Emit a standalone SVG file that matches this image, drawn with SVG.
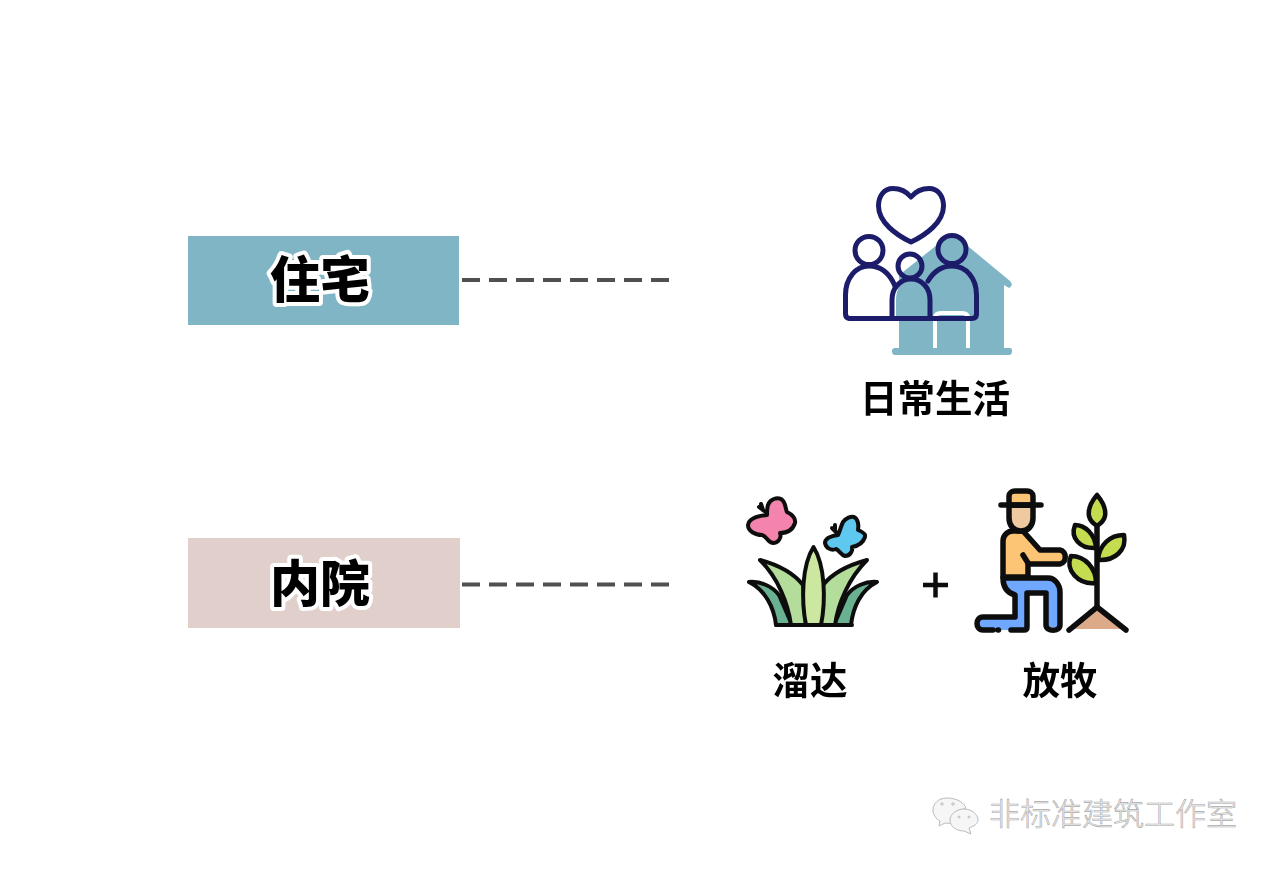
<svg xmlns="http://www.w3.org/2000/svg" width="1280" height="870" viewBox="0 0 1280 870">
<defs>
<style>
text{font-family:"Noto Sans CJK SC","Liberation Sans",sans-serif;text-anchor:middle}
.box{font-size:50px;font-weight:900;fill:#000;stroke:#fff;stroke-width:8px;stroke-linejoin:round;paint-order:stroke}
.cap{font-size:37.5px;font-weight:700;fill:#000}
.dash{stroke:#505050;stroke-width:4;stroke-dasharray:18 9;fill:none}
.navy{fill:none;stroke:#1b1f6b;stroke-width:5;stroke-linejoin:round;stroke-linecap:round}
.k{stroke:#111;stroke-width:4;stroke-linejoin:round;stroke-linecap:round}
.kn{fill:none;stroke:#111;stroke-width:4;stroke-linejoin:round;stroke-linecap:round}
.f{stroke:#0c0c0c;stroke-width:5.500;stroke-linejoin:round;stroke-linecap:round}
.fn{fill:none;stroke:#0c0c0c;stroke-width:5.500;stroke-linejoin:round;stroke-linecap:round}
.leaf{fill:#c4dc50;stroke:#0c0c0c;stroke-width:4.500;stroke-linejoin:round}
.t{fill:#7fb5c4}
.wm{font-size:31px;font-weight:300;fill:#f1f1f1;stroke:#aaa;stroke-width:.6px}
</style>
<filter id="soft" x="-5%" y="-5%" width="110%" height="110%"><feGaussianBlur stdDeviation=".4"/></filter>
</defs>
<rect width="1280" height="870" fill="#fff"/>
<g id="connectors">
<path class="dash" d="M462 280H670"/>
<path class="dash" d="M462 584.500H670"/>
</g>
<g id="node-zhuzhai">
<rect x="188" y="236" width="271" height="89" fill="#7fb5c4"/>
<text class="box" x="320" y="298">住宅</text>
</g>
<g id="node-neiyuan">
<rect x="188" y="538" width="272" height="90" fill="#e0cfcb"/>
<text class="box" x="320" y="602">内院</text>
</g>
<g id="node-richang" filter="url(#soft)">
<path class="t" d="M952 233L1010 281Q1014 286 1009 288L1004 285V348H1010Q1012 348 1012 351Q1012 355 1009 355H895Q892 355 892 351Q892 348 895 348H899V276L903 272Z"/>
<path d="M935 348V318Q935 313 941 313H962Q968 313 968 318V348" fill="none" stroke="#fff" stroke-width="4"/>
<path d="M847 318V295C847 278 856 267 869 267C882 267 892 278 894 290V318Z" fill="#fff"/>
<path d="M896 318V300C896 288 902 279 911 279C921 279 928 288 928 300V318Z" class="t"/>
<circle cx="869" cy="250.500" r="14" fill="#fff"/>
<path class="navy" d="M911 197C906 191 899 188.500 893 188.500C884 188.500 878.500 196 878.500 206C878.500 222 896 235 911 242C926 235 943.500 222 943.500 206C943.500 196 938 188.500 929 188.500C923 188.500 916 191 911 197Z"/>
<circle class="navy" cx="869" cy="250.500" r="14"/>
<circle class="navy" cx="952" cy="249.500" r="14"/>
<circle class="navy" cx="910" cy="266" r="12"/>
<path class="navy" d="M850 318.500Q845.500 318.500 845.500 314V295C845.500 278 856 266 869 266C880 266 889 272 895 286"/>
<path class="navy" d="M850 318.500H972Q976.500 318.500 976.500 314V295C976.500 278 966 266 952 266C942 266 934 271 928 281"/>
<path class="navy" d="M892 318V300C892 288 900 279 911 279C922 279 930 288 930 300V318"/>
<text class="cap" x="935" y="412">日常生活</text>
</g>
<g id="node-liuda" filter="url(#soft)">
<path class="k" fill="#f484ad" d="M768 505C770 499 777 497 781 499C786 502 785 508 787 512C791 514 796 518 795 523C793 529 789 533 780 533C782 538 778 543 773 543C767 542 767 536 762 535C755 535 748 531 748 525C749 519 757 516 767 515C767 512 767 508 768 505Z"/>
<path class="kn" d="M767 513L759 507M763 510L761 504"/>
<path class="k" fill="#5fc8f0" d="M843 522C846 518 851 516 854 517C858 519 859 525 858 530C863 532 866 534 865 537C863 543 858 546 852 547C853 551 850 556 845 556C841 555 839 550 836 549C831 551 826 548 825 543C825 538 831 536 838 535C840 531 841 526 843 522Z"/>
<path class="kn" d="M838 534L832 528M835 531L835 525"/>
<path class="k" fill="#69b191" d="M776 625C774 607 765 590 749 582C760 581 772 586 779 595L792 625Z"/>
<path class="k" fill="#69b191" d="M851 625C853 607 861 590 877 582C866 581 854 586 847 595L834 625Z"/>
<path class="k" fill="#b4dc9b" d="M791 625C788 603 778 578 760 560C782 566 795 575 803 585L806 625Z"/>
<path class="k" fill="#b4dc9b" d="M835 625C838 603 849 578 867 560C845 566 831 575 823 585L820 625Z"/>
<path class="k" fill="#cce8a0" d="M806 625C801 600 802 565 813.500 547C825 565 826 600 821 625Z"/>
<path class="kn" d="M776 625H852" stroke-width="5"/>
<text class="cap" x="810" y="694">溜达</text>
</g>
<g id="plus" filter="url(#soft)">
<path d="M923 585H948M935.500 572.500V597.500" stroke="#111" stroke-width="4.500" fill="none"/>
</g>
<g id="node-fangmu" filter="url(#soft)">
<path class="f" fill="#fcc474" d="M1013 531H1023L1040 550H1060C1067 551 1067 563 1060 564H1028V577H1003V541C1003 535 1008 531 1013 531Z"/>
<path class="fn" d="M1023 555L1028 563"/>
<path d="M1004 579H1048C1055 579 1060 585 1060 592V627H1046V593H1027V630H1010V630H980C975 628 975 618 981 617H1015V595C1009 593 1004 587 1004 579Z" fill="#6fa8ff"/>
<path class="fn" d="M1003 578H1048C1055 578 1060 585 1060 592V625C1060 632 1046 632 1046 625V593H1027V627Q1027 630 1024 630H1011M1003 578C1003 588 1008 593 1015 595V617H983C975 617 975 630 983 630H993M998 630H998.500"/>
<path class="f" fill="#efc9a0" d="M1009 505H1033V518C1033 526 1028 531 1021 531C1014 531 1009 526 1009 518Z"/>
<path class="f" fill="#fcc474" d="M1009 505V496C1009 493 1012 491 1015 491H1027C1030 491 1033 493 1033 496V505Z"/>
<path class="fn" d="M1001 505H1041"/>
<path class="fn" d="M1097 606V522"/>
<path class="leaf" d="M1097 495C1091 502 1088 510 1089 516C1090 521 1094 524 1097 526C1100 524 1104 521 1105 516C1106 510 1103 502 1097 495Z"/>
<path class="leaf" d="M1096 548C1095 534 1085 525 1075 525C1070 538 1080 549 1096 548Z"/>
<path class="leaf" d="M1098 560C1099 545 1110 535 1124 535C1127 550 1115 561 1098 560Z"/>
<path class="leaf" d="M1096 583C1096 568 1085 556 1071 556C1065 570 1078 585 1096 583Z"/>
<path fill="#dcaa88" d="M1071 629L1097 607L1124 629Z"/>
<path class="fn" d="M1069 630L1097 607L1126 630"/>
<text class="cap" x="1060" y="694">放牧</text>
</g>
<g id="watermark">
<g fill="#f6f6f6" stroke="#bbb" stroke-width="1">
<path d="M947 798C938 798 933 804 933 810C933 815 936 819 940 821L939 826L945 823C947 823 949 824 951 823C950 815 957 809 966 809C965 803 957 798 947 798Z"/>
<path d="M964 809C957 809 950 814 950 820C950 827 957 831 964 831L971 834L969 828C974 826 978 824 978 820C978 814 971 809 964 809Z"/>
<circle cx="942" cy="804" r="1.200"/><circle cx="953" cy="804" r="1.200"/><circle cx="959" cy="817" r="1"/><circle cx="969" cy="817" r="1"/>
</g>
<text class="wm" x="1113" y="825">非标准建筑工作室</text>
</g>
</svg>
